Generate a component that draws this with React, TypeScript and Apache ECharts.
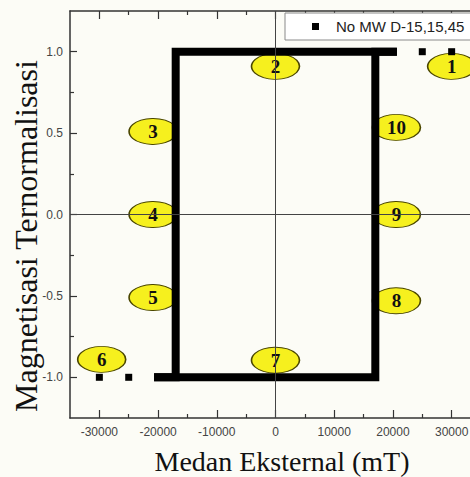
import React, { useEffect, useRef } from 'react';
import * as echarts from 'echarts';

const seriesName = 'No MW D-15,15,45';

// isolated measured points (field mT, normalized magnetization)
const isolatedH = [30000, 25000, -25000, -30000];
const isolatedM = [1, 1, -1, -1];

// continuous parts of the loop
const descH = [20000, -17000, -17000, -20000];
const descM = [1, 1, -1, -1];
const ascH = [-20000, 17000, 17000, 20000];
const ascM = [-1, -1, 1, 1];

// numbered markers
const markerLabels = ['1', '2', '3', '4', '5', '6', '7', '8', '9', '10'];
const markerH = [30000, 0, -20850, -20850, -20850, -29600, 0, 20600, 20600, 20600];
const markerM = [0.91, 0.91, 0.51, 0, -0.51, -0.89, -0.895, -0.53, 0, 0.535];

// ticks
const xTicks = [-30000, -20000, -10000, 0, 10000, 20000, 30000];
const xMinorTicks = [-25000, -15000, -5000, 5000, 15000, 25000];
const yTicks = [-1, -0.5, 0, 0.5, 1];
const yMinorTicks = [-0.75, -0.25, 0.25, 0.75];

const X_MIN = -35000;
const X_MAX = 35000;
const Y_MIN = -1.25;
const Y_MAX = 1.25;

const axisColor = '#333';
const tickFont = '"Liberation Sans", Arial, sans-serif';
const serif = '"Liberation Serif", "Times New Roman", serif';

function xAxisDef(position: 'top' | 'bottom', ticks: number[], len: number, showLine: boolean, showLabel: boolean) {
  return {
    type: 'value',
    position,
    min: X_MIN,
    max: X_MAX,
    splitLine: { show: false },
    axisLine: { show: showLine, onZero: false, lineStyle: { color: axisColor, width: 1.5 } },
    axisTick: { show: true, inside: true, length: len, customValues: ticks, lineStyle: { color: axisColor, width: 1.2 } },
    axisLabel: showLabel
      ? {
          show: true,
          customValues: ticks,
          margin: 8,
          fontSize: 12,
          color: '#444',
          fontFamily: tickFont,
          formatter: (v: number) => String(v),
        }
      : { show: false },
  };
}

function yAxisDef(ticks: number[], len: number, showLine: boolean, showLabel: boolean) {
  return {
    type: 'value',
    position: 'left',
    min: Y_MIN,
    max: Y_MAX,
    splitLine: { show: false },
    axisLine: { show: showLine, onZero: false, lineStyle: { color: axisColor, width: 1.5 } },
    axisTick: { show: true, inside: true, length: len, customValues: ticks, lineStyle: { color: axisColor, width: 1.2 } },
    axisLabel: showLabel
      ? {
          show: true,
          customValues: ticks,
          margin: 7,
          fontSize: 12,
          color: '#444',
          fontFamily: tickFont,
          formatter: (v: number) => v.toFixed(1),
        }
      : { show: false },
  };
}

export default function App() {
  const ref = useRef<HTMLDivElement>(null);

  useEffect(() => {
    document.body.style.margin = '0';
    document.body.style.overflow = 'hidden';
    document.documentElement.style.overflow = 'hidden';
    if (!ref.current) return;
    const chart = echarts.init(ref.current, undefined, { renderer: 'svg' });

    const option: any = {
      animation: false,
      backgroundColor: '#fcfcf6',
      grid: { left: 70, top: 11, right: 1, bottom: 59, containLabel: false },
      legend: {
        show: true,
        left: 285,
        top: 13,
        data: [{ name: seriesName, icon: 'rect' }],
        itemWidth: 7,
        itemHeight: 7,
        padding: [6, 10, 6, 27],
        backgroundColor: '#ffffff',
        borderColor: '#8a8a8a',
        borderWidth: 1,
        selectedMode: false,
        formatter: (name: string) => '{s|}' + name,
        textStyle: {
          fontSize: 15,
          color: '#222',
          fontFamily: tickFont,
          rich: { s: { width: 12, fontSize: 15 } },
        },
      },
      xAxis: [
        xAxisDef('bottom', xTicks, 8, true, true),
        xAxisDef('bottom', xMinorTicks, 4, false, false),
        xAxisDef('top', xTicks, 8, true, false),
        xAxisDef('top', xMinorTicks, 4, false, false),
      ],
      yAxis: [yAxisDef(yTicks, 7, true, true), yAxisDef(yMinorTicks, 4, false, false)],
      graphic: [
        {
          type: 'text',
          x: 282,
          y: 461,
          style: {
            text: 'Medan Eksternal (mT)',
            font: '28px ' + serif,
            fill: '#111',
            align: 'center',
            verticalAlign: 'middle',
            textAlign: 'center',
            textVerticalAlign: 'middle',
          },
        },
        {
          type: 'text',
          x: 26,
          y: 236,
          rotation: Math.PI / 2,
          style: {
            text: 'Magnetisasi Ternormalisasi',
            font: '32px ' + serif,
            fill: '#111',
            align: 'center',
            verticalAlign: 'middle',
            textAlign: 'center',
            textVerticalAlign: 'middle',
          },
        },
      ],
      series: [
        {
          name: seriesName,
          type: 'scatter',
          symbol: 'rect',
          symbolSize: 7,
          itemStyle: { color: '#000', opacity: 1 },
          z: 4,
          data: isolatedH.map((h, i) => [h, isolatedM[i]]),
        },
        {
          name: 'zero',
          type: 'line',
          data: [],
          z: 1,
          markLine: {
            silent: true,
            symbol: 'none',
            label: { show: false },
            lineStyle: { color: '#444', width: 1, type: 'solid' },
            data: [{ xAxis: 0 }, { yAxis: 0 }],
          },
        },
        {
          name: 'markers',
          type: 'scatter',
          symbol: 'circle',
          symbolSize: [48, 26],
          z: 2,
          itemStyle: { color: '#f6f01e', borderColor: '#4a4600', borderWidth: 1.2, opacity: 1 },
          label: {
            show: true,
            position: 'inside',
            formatter: '{b}',
            fontFamily: serif,
            fontWeight: 'bold',
            fontSize: 19,
            color: '#111',
          },
          data: markerLabels.map((t, i) => ({ name: t, value: [markerH[i], markerM[i]] })),
        },
        {
          name: 'descending',
          type: 'line',
          symbol: 'none',
          showSymbol: false,
          z: 3,
          lineStyle: { color: '#000', width: 8, cap: 'square', join: 'miter' },
          data: descH.map((h, i) => [h, descM[i]]),
        },
        {
          name: 'ascending',
          type: 'line',
          symbol: 'none',
          showSymbol: false,
          z: 3,
          lineStyle: { color: '#000', width: 8, cap: 'square', join: 'miter' },
          data: ascH.map((h, i) => [h, ascM[i]]),
        },
      ],
    };

    chart.setOption(option);
    return () => chart.dispose();
  }, []);

  return <div ref={ref} style={{ width: 482, height: 477, background: '#fcfcf6' }} />;
}
